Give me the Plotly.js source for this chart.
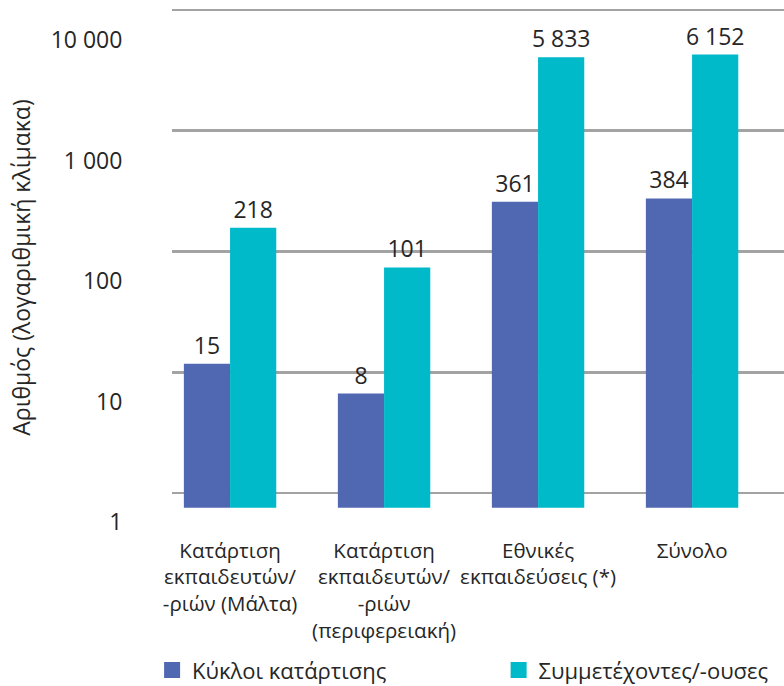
<!DOCTYPE html>
<html>
<head>
<meta charset="utf-8">
<script src="https://cdn.plot.ly/plotly-3.0.1.min.js"></script>
<style>html,body{margin:0;padding:0;background:#fff}#chart{width:784px;height:686px}</style>
</head>
<body>
<div id="chart"></div>
<script>
const categories = [
  "Κατάρτιση<br>εκπαιδευτών/<br>-ριών (Μάλτα)",
  "Κατάρτιση<br>εκπαιδευτών/<br>-ριών<br>(περιφερειακή)",
  "Εθνικές<br>εκπαιδεύσεις (*)",
  "Σύνολο"
];
const seriesNames = ["Κύκλοι κατάρτισης", "Συμμετέχοντες/-ουσες"];
const cycles = [15, 8, 361, 384];
const participants = [218, 101, 5833, 6152];
const tickVals = [1, 10, 100, 1000, 10000];
const tickText = ["1", "10", "100", "1 000", "10 000"];
const yTitle = "Αριθμός (λογαριθμική κλίμακα)";

const FONT = "'Open Sans', 'Noto Sans', sans-serif";
const TXT = "#262626";
const BLUE = "#5068B2", CYAN = "#00B9C9";

const bars = (vals, color) => ({
  type: "bar", x: categories, y: vals, base: 1, showlegend: false,
  marker: {color: color, line: {width: 0}},
  texttemplate: "%{y:,}", textposition: "outside", constraintext: "none",
  textfont: {family: FONT, size: 23, color: TXT},
  cliponaxis: false, hoverinfo: "skip", xaxis: "x", yaxis: "y3"
});
const legendItem = (name, color, leg) => ({
  type: "scatter", mode: "markers", name: name, x: [categories[0]], y: [null],
  marker: {symbol: "square", size: 20, color: color}, legend: leg,
  hoverinfo: "skip", xaxis: "x", yaxis: "y3"
});
const tickHolder = (ax) => ({
  type: "scatter", mode: "markers", x: tickVals.map(() => categories[0]), y: tickVals,
  marker: {opacity: 0}, showlegend: false, hoverinfo: "skip", xaxis: "x", yaxis: ax
});

const data = [
  tickHolder("y"), tickHolder("y2"),
  bars(cycles, BLUE), bars(participants, CYAN),
  legendItem(seriesNames[0], BLUE, "legend"),
  legendItem(seriesNames[1], CYAN, "legend2")
];

const legFont = {family: FONT, size: 22, color: TXT};
const layout = {
  width: 784, height: 686,
  margin: {l: 172, r: 0, t: 5, b: 156},
  paper_bgcolor: "#fff", plot_bgcolor: "rgba(0,0,0,0)",
  separators: ", ",
  font: {family: FONT, size: 20, color: TXT},
  barmode: "group", bargap: 0.4, bargroupgap: 0,
  showlegend: true,
  legend: {orientation: "h", xref: "container", yref: "container", x: 0.194, y: 0.023,
           xanchor: "left", yanchor: "middle", font: legFont, itemwidth: 30, bgcolor: "rgba(0,0,0,0)"},
  legend2: {orientation: "h", xref: "container", yref: "container", x: 0.636, y: 0.023,
           xanchor: "left", yanchor: "middle", font: legFont, itemwidth: 30, bgcolor: "rgba(0,0,0,0)"},
  xaxis: {type: "category", range: [-0.377, 3.597], showgrid: false, zeroline: false, showline: false,
          tickangle: 0, ticks: "outside", ticklen: 2, tickcolor: "rgba(0,0,0,0)",
          tickfont: {family: FONT, size: 20.5, color: TXT}, fixedrange: true},
  yaxis: {type: "log", range: [-0.066, 4.290], showgrid: false, zeroline: false, showline: false,
          tickvals: tickVals, ticktext: tickText, ticks: "outside", ticklen: 44, tickcolor: "rgba(0,0,0,0)",
          tickfont: {family: FONT, size: 23, color: TXT},
          title: {text: yTitle, font: {family: FONT, size: 23, color: TXT}, standoff: 13}},
  yaxis2: {type: "log", overlaying: "y", range: [-0.306, 4.041], showgrid: true, gridcolor: "#A3A3A3", gridwidth: 2.5,
           zeroline: false, showline: false, tickvals: tickVals, showticklabels: false, ticks: ""},
  yaxis3: {type: "log", overlaying: "y", range: [-0.186, 4.203], showgrid: false, zeroline: false, showline: false,
           showticklabels: false, ticks: ""}
};

Plotly.newPlot("chart", data, layout, {displayModeBar: false, staticPlot: true});
</script>
</body>
</html>
